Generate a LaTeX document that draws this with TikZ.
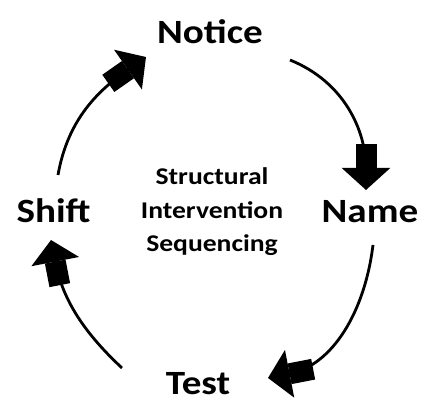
\documentclass[tikz,border=0pt]{standalone}
\usepackage{fontspec}
\setmainfont{Carlito}[FakeStretch=1.15]
\usetikzlibrary{arrows.meta}

\begin{document}
\begin{tikzpicture}[x=1pt,y=1pt,
        stage/.style={font=\fontsize{34}{40}\selectfont\bfseries, inner sep=0pt, anchor=base},
        turn/.style={line width=2.8pt,
                -{Rectangle[length=24pt,width=21pt,sep=0pt]Triangle[length=22pt,width=48pt]}}]
        \path[use as bounding box, fill=white] (0,0) rectangle (424,405);
        % the four steps
        \node[stage] (notice) at (210,361) {Notice};
        \node[stage] (name) at (370,182) {Name};
        \node[stage] (test) at (198,10) {Test};
        \node[stage] (shift) at (53.5,182) {Shift};
        \node[font=\fontsize{24}{33.5}\selectfont\bfseries, align=center, inner sep=0pt] (sis) at (212,193)
                {Structural\\Intervention\\Sequencing};
        % ends of the arrows
        \coordinate (a1) at (290,345); \coordinate (b1) at (366,215);
        \coordinate (a2) at (373,160); \coordinate (b2) at (268,27);
        \coordinate (a3) at (122,37);  \coordinate (b3) at (51,165);
        \coordinate (a4) at (58,230);  \coordinate (b4) at (146,348);
        \draw[turn] (a1) to[out=-22, in=90] (b1);
        \draw[turn] (a2) to[out=-97, in=11] (b2);
        \draw[turn] (a3) to[out=137, in=-79] (b3);
        \draw[turn] (a4) to[out=80, in=215] (b4);
\end{tikzpicture}
\end{document}
